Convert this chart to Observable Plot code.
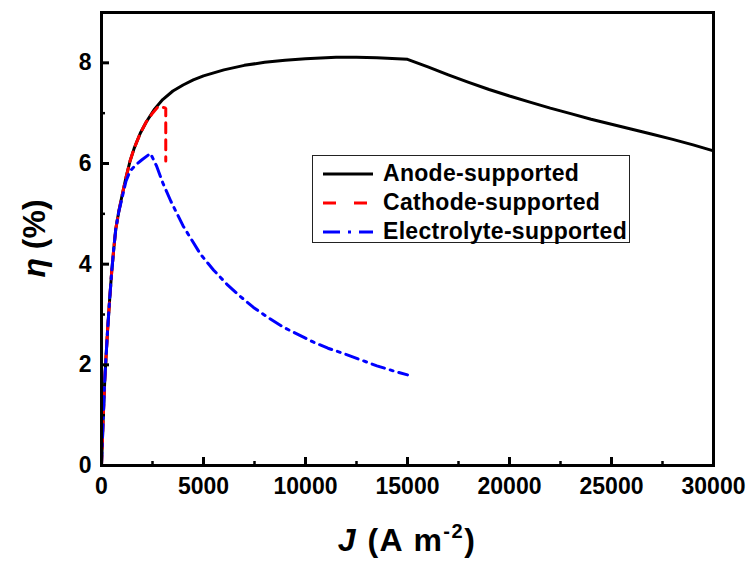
<!DOCTYPE html>
<html>
<head>
<meta charset="utf-8">
<script src="https://cdn.jsdelivr.net/npm/d3@7"></script>
<script src="https://cdn.jsdelivr.net/npm/@observablehq/plot@0.6"></script>
<style>
  body { margin: 0; background: #fff; }
  #wrap { position: relative; width: 749px; height: 562px; font-family: "Liberation Sans", Arial, sans-serif; }
  #legend { position: absolute; left: 312px; top: 155px; width: 318px; height: 88px; border: 1px solid #222; background: #fff; box-sizing: border-box; }
  .row { position: absolute; left: 0; height: 29px; display: flex; align-items: center; }
  .row svg { margin-left: 10px; margin-right: 10px; }
  .row span { font-weight: bold; font-size: 23px; letter-spacing: 0.3px; color: #000; white-space: nowrap; }
</style>
</head>
<body>
<div id="wrap"></div>
<script>
// ---- data ----
const seriesNames = ["Anode-supported", "Cathode-supported", "Electrolyte-supported"];
const anodeJ   = [0, 40, 80, 120, 160, 200, 300, 400, 500, 600, 700, 850, 1000, 1200, 1400, 1600, 1900, 2200, 2600, 3000, 3500, 4000, 4500, 5000, 6000, 7000, 8000, 9000, 10000, 11000, 11500, 12500, 13500, 14500, 15000, 16000, 17000, 18000, 19000, 20000, 21000, 22000, 23000, 24000, 25000, 26000, 27000, 28000, 29000, 30000];
const anodeEta = [0, 0.45, 0.9, 1.3, 1.7, 2.0, 2.7, 3.3, 3.85, 4.3, 4.7, 5.05, 5.35, 5.72, 6.05, 6.3, 6.6, 6.83, 7.08, 7.27, 7.44, 7.56, 7.66, 7.74, 7.86, 7.95, 8.01, 8.05, 8.08, 8.1, 8.11, 8.11, 8.1, 8.08, 8.07, 7.92, 7.76, 7.61, 7.47, 7.34, 7.22, 7.1, 6.99, 6.88, 6.78, 6.68, 6.58, 6.48, 6.37, 6.25];
const cathodeJ   = [0, 40, 80, 120, 160, 200, 300, 400, 500, 600, 700, 850, 1000, 1200, 1400, 1600, 1900, 2200, 2500, 2800, 3150, 3150];
const cathodeEta = [0, 0.45, 0.9, 1.3, 1.7, 2.0, 2.7, 3.3, 3.85, 4.3, 4.7, 5.05, 5.35, 5.72, 6.05, 6.3, 6.6, 6.83, 7.0, 7.14, 7.1, 6.05];
const electroJ   = [0, 40, 80, 120, 160, 200, 300, 400, 500, 600, 700, 850, 1000, 1200, 1400, 1700, 2000, 2400, 2700, 3000, 3400, 4000, 4850, 5500, 6150, 6800, 7450, 8200, 8950, 9700, 10400, 11100, 11900, 12700, 13500, 14300, 15000];
const electroEta = [0, 0.45, 0.9, 1.3, 1.7, 2.0, 2.7, 3.3, 3.85, 4.3, 4.7, 5.05, 5.3, 5.65, 5.85, 5.98, 6.08, 6.2, 5.95, 5.62, 5.25, 4.76, 4.2, 3.88, 3.6, 3.36, 3.14, 2.93, 2.74, 2.59, 2.45, 2.33, 2.22, 2.1, 1.98, 1.88, 1.8];
const xMajor = [0, 5000, 10000, 15000, 20000, 25000, 30000];
const xMinor = [2500, 7500, 12500, 17500, 22500, 27500];
const yMajor = [0, 2, 4, 6, 8];
const yMinor = [1, 3, 5, 7];
const colors = ["#000000", "#ff0000", "#0000ff"];
const dashes = [null, "10,7", "13,6,3,6"];

const toRows = (J, E) => J.map((j, i) => ({J: j, eta: E[i]}));
const anode = toRows(anodeJ, anodeEta);
const cathode = toRows(cathodeJ, cathodeEta);
const electro = toRows(electroJ, electroEta);

const fmt = d3.format("d");
const chart = Plot.plot({
  width: 749, height: 562,
  marginLeft: 101, marginRight: 36, marginTop: 12, marginBottom: 97,
  x: {domain: [0, 30000]},
  y: {domain: [0, 9]},
  style: {fontFamily: '"Liberation Sans", Arial, sans-serif', fontSize: "23px", fontWeight: "bold", color: "#000", background: "#fff"},
  marks: [
    Plot.line(anode, {x: "J", y: "eta", stroke: colors[0], strokeWidth: 3}),
    Plot.line(cathode, {x: "J", y: "eta", stroke: colors[1], strokeWidth: 3, strokeDasharray: dashes[1], strokeLinejoin: "miter"}),
    Plot.line(electro, {x: "J", y: "eta", stroke: colors[2], strokeWidth: 3, strokeDasharray: dashes[2]}),
    // inward ticks as zero-span rules extended by negative insets
    Plot.ruleX(xMajor, {x: d => d, y1: 0, y2: 0, insetTop: -8, stroke: "#000", strokeWidth: 3}),
    Plot.ruleX(xMinor, {x: d => d, y1: 0, y2: 0, insetTop: -4, stroke: "#000", strokeWidth: 2.5}),
    Plot.ruleY(yMajor, {y: d => d, x1: 0, x2: 0, insetRight: -8, stroke: "#000", strokeWidth: 3}),
    Plot.ruleY(yMinor, {y: d => d, x1: 0, x2: 0, insetRight: -4, stroke: "#000", strokeWidth: 2.5}),
    Plot.axisX(xMajor, {tickSize: 0, tickPadding: 12, tickFormat: fmt, label: null}),
    Plot.axisY(yMajor, {tickSize: 0, tickPadding: 10, tickFormat: fmt, label: null}),
    Plot.frame({stroke: "#000", strokeWidth: 3})
  ]
});

const wrap = document.getElementById("wrap");
wrap.appendChild(chart);

// axis titles
const svg = d3.select(chart);
const xs = chart.scale("x"), ys = chart.scale("y");
const xt = svg.append("text")
  .attr("x", xs.apply(15000)).attr("y", 551)
  .attr("text-anchor", "middle")
  .style("font-size", "32px").style("font-weight", "bold").style("letter-spacing", "1.5px").attr("fill", "#000");
xt.append("tspan").style("font-style", "italic").text("J");
xt.append("tspan").text(" (A m");
xt.append("tspan").attr("dy", -13).style("font-size", "20px").text("-2");
xt.append("tspan").attr("dy", 13).text(")");

const yt = svg.append("text")
  .attr("transform", `translate(45,${ys.apply(4.5)}) rotate(-90)`)
  .attr("text-anchor", "middle")
  .style("font-size", "32px").style("font-weight", "bold").attr("fill", "#000");
yt.append("tspan").style("font-style", "italic").text("η");
yt.append("tspan").text(" (%)");

// legend
const legend = document.createElement("div");
legend.id = "legend";
seriesNames.forEach((name, i) => {
  const row = document.createElement("div");
  row.className = "row";
  row.style.top = (3 + i * 29) + "px";
  const s = d3.create("svg").attr("width", 50).attr("height", 10);
  s.append("line").attr("x1", 0).attr("x2", 50).attr("y1", 5).attr("y2", 5)
    .attr("stroke", colors[i]).attr("stroke-width", 3)
    .attr("stroke-dasharray", i === 1 ? "13,18" : i === 2 ? "17,8,3,8" : null);
  row.appendChild(s.node());
  const t = document.createElement("span");
  t.textContent = name;
  row.appendChild(t);
  legend.appendChild(row);
});
wrap.appendChild(legend);
</script>
</body>
</html>
